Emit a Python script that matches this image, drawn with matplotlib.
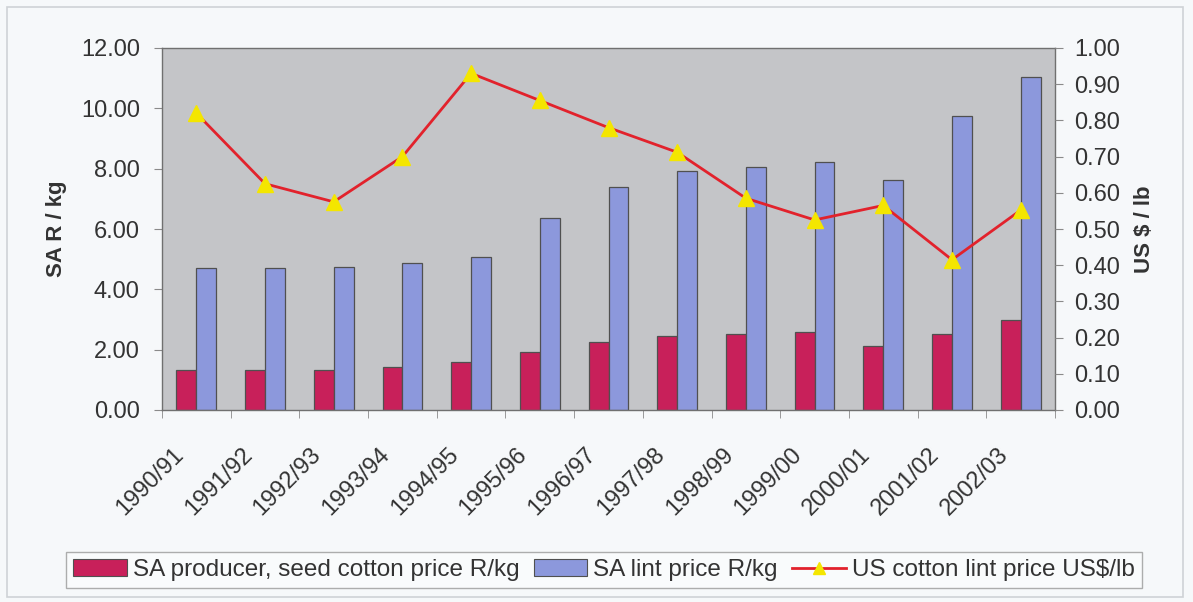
import numpy as np
import matplotlib
matplotlib.use("Agg")
import matplotlib.pyplot as plt
import matplotlib.transforms as mtransforms
from matplotlib.patches import Patch, Rectangle
from matplotlib.lines import Line2D
from matplotlib.ticker import FormatStrFormatter

plt.rcParams["font.family"] = ["Liberation Sans", "DejaVu Sans"]

seasons = ["1990/91", "1991/92", "1992/93", "1993/94", "1994/95", "1995/96",
           "1996/97", "1997/98", "1998/99", "1999/00", "2000/01", "2001/02",
           "2002/03"]
seed_cotton = [1.33, 1.33, 1.33, 1.44, 1.60, 1.93, 2.27, 2.45, 2.52, 2.59,
               2.13, 2.52, 2.98]
lint_price = [4.70, 4.70, 4.75, 4.88, 5.08, 6.35, 7.40, 7.93, 8.07, 8.22,
              7.62, 9.73, 11.05]
us_lint = [0.82, 0.625, 0.575, 0.70, 0.93, 0.855, 0.78, 0.712, 0.585, 0.525,
           0.565, 0.415, 0.552]

RED = "#c8205a"
BLUE = "#8c98dc"
LINE = "#e2222c"
MARK = "#f4e600"
TXT = "#333333"
FS = 17

fig = plt.figure(figsize=(11.93, 6.02), dpi=100)
fig.patch.set_facecolor("#f6f8fa")

# outer chart frame
fig.patches.append(Rectangle((7 / 1193, 5 / 602), 1176 / 1193, 590 / 602,
                             transform=fig.transFigure, fill=False,
                             edgecolor="#cfd2d6", lw=1.2))

ax = fig.add_axes([162 / 1193, 1 - 410 / 602, 893 / 1193, 362 / 602])
ax.set_facecolor("#c4c5c8")

x = np.arange(len(seasons))
w = 0.29
ax.bar(x - w / 2, seed_cotton, w, color=RED, edgecolor="#505050", lw=0.9)
ax.bar(x + w / 2, lint_price, w, color=BLUE, edgecolor="#505050", lw=0.9)
ax.set_xlim(-0.5, len(seasons) - 0.5)
ax.set_ylim(0, 12)
ax.set_yticks(np.arange(0, 13, 2))
ax.yaxis.set_major_formatter(FormatStrFormatter("%.2f"))

ax.set_xticks(x)
ax.set_xticklabels(seasons, rotation=45, ha="right", va="center",
                   rotation_mode="anchor")
ax.set_xticks(np.arange(-0.5, len(seasons)), minor=True)
ax.tick_params(axis="x", which="major", length=0, pad=30, labelsize=FS,
               labelcolor=TXT)
ax.tick_params(axis="x", which="minor", length=6, color="#8a8a8a")
ax.tick_params(axis="y", length=6, color="#8a8a8a", pad=10, labelsize=FS,
               labelcolor=TXT)
shift = mtransforms.ScaledTranslation(-0.16, 0, fig.dpi_scale_trans)
for lbl in ax.get_xticklabels():
    lbl.set_transform(lbl.get_transform() + shift)

for s in ax.spines.values():
    s.set_color("#707070")
    s.set_linewidth(1.0)

ax2 = ax.twinx()
ax2.plot(x, us_lint, color=LINE, lw=2, marker="^", ms=12, mfc=MARK,
         mec=MARK, zorder=5)
ax2.set_ylim(0, 1)
ax2.set_yticks(np.arange(0, 1.01, 0.1))
ax2.yaxis.set_major_formatter(FormatStrFormatter("%.2f"))
ax2.tick_params(axis="y", length=6, color="#8a8a8a", pad=8, labelsize=FS,
                labelcolor=TXT)
for s in ax2.spines.values():
    s.set_visible(False)

ax.set_ylabel("SA R / kg", fontsize=16, fontweight="bold", color=TXT,
              labelpad=10)
ax2.set_ylabel("US $ / lb", fontsize=16, fontweight="bold", color=TXT,
               labelpad=10)

handles = [
    Patch(facecolor=RED, edgecolor="#505050", lw=0.8),
    Patch(facecolor=BLUE, edgecolor="#505050", lw=0.8),
    Line2D([], [], color=LINE, lw=2, marker="^", ms=9, mfc=MARK, mec=MARK),
]
labels = ["SA producer, seed cotton price R/kg", "SA lint price R/kg",
          "US cotton lint price US$/lb"]
leg = fig.legend(handles, labels, loc="center", ncol=3,
                 bbox_to_anchor=(604 / 1193, 1 - 570 / 602), fontsize=17.5,
                 frameon=True, fancybox=False, edgecolor="#9a9a9a",
                 facecolor="#fbfcfd", handlelength=2.2, handleheight=0.65,
                 handletextpad=0.25, columnspacing=0.6, borderpad=0.3,
                 borderaxespad=0)
leg.get_frame().set_linewidth(1.0)
for t in leg.get_texts():
    t.set_color(TXT)

fig.savefig("out.png", dpi=100, facecolor=fig.get_facecolor())
